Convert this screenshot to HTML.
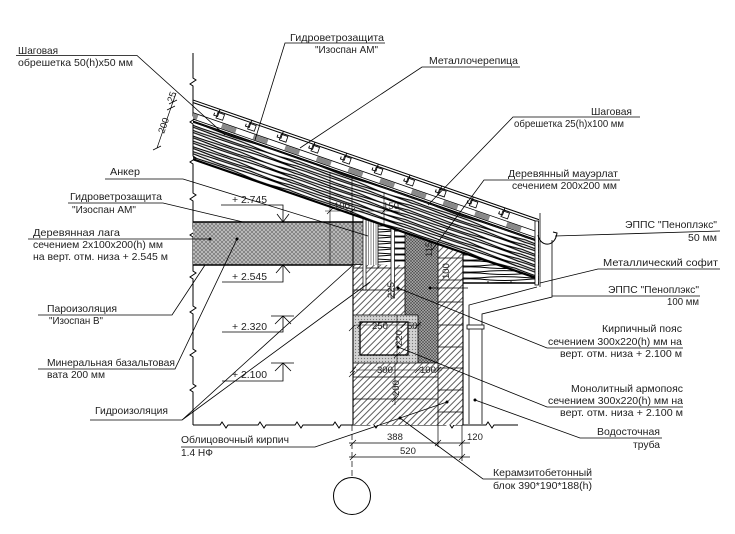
<!DOCTYPE html>
<html><head><meta charset="utf-8"><title>Узел карниза</title>
<style>
html,body{margin:0;padding:0;background:#fff;width:735px;height:534px;overflow:hidden}
svg{display:block}
text{font-family:"Liberation Sans","DejaVu Sans",sans-serif;font-size:10.5px;fill:#1e1e1e;stroke:none}
text.d{font-size:9.5px}
</style></head><body>
<svg width="735" height="534" viewBox="0 0 735 534" xmlns="http://www.w3.org/2000/svg">
<defs>
<pattern id="wood" width="120" height="10" patternUnits="userSpaceOnUse">
<path d="M0,1 C20,-0.5 40,3 60,1.6 S100,0 120,1 M0,3.6 C25,5.6 45,2 70,4.2 S105,5 120,3.6 M0,6 C15,4.5 40,7.8 65,6.4 S100,5 120,6 M0,8.4 C30,9.9 50,7 80,8.6 S110,9.6 120,8.4" fill="none" stroke="#000" stroke-width="1.15"/>
</pattern>
<pattern id="hwood" width="70" height="6" patternUnits="userSpaceOnUse">
<path d="M0,1 Q17.5,0 35,1.5 T70,1 M0,4 Q17.5,5.2 35,3.6 T70,4" fill="none" stroke="#000" stroke-width="1"/>
</pattern>
<pattern id="cross" width="4" height="4" patternUnits="userSpaceOnUse">
<rect width="4" height="4" fill="#b8b8b8"/>
<path d="M0,0L4,4M4,0L0,4" stroke="#555" stroke-width="0.5"/>
</pattern>
<pattern id="epps" width="3" height="3" patternUnits="userSpaceOnUse">
<rect width="3" height="3" fill="#9c9c9c"/>
<path d="M0,0L3,3M3,0L0,3" stroke="#444" stroke-width="0.5"/>
</pattern>
<pattern id="diag" width="4.5" height="4.5" patternUnits="userSpaceOnUse" patternTransform="rotate(45)">
<rect width="4.5" height="4.5" fill="#fff"/>
<line x1="2" y1="0" x2="2" y2="4.5" stroke="#333" stroke-width="0.8"/>
</pattern>
<pattern id="belt" width="3" height="3" patternUnits="userSpaceOnUse">
<rect width="3" height="3" fill="#d2d2d2"/>
<circle cx="1.5" cy="1.5" r="0.6" fill="#777"/>
</pattern>
<pattern id="vh" width="2.5" height="4" patternUnits="userSpaceOnUse">
<rect width="2.5" height="4" fill="#fff"/><line x1="1" y1="0" x2="1" y2="4" stroke="#444" stroke-width="0.6"/>
</pattern>
<clipPath id="rc"><rect x="193" y="0" width="346" height="300"/></clipPath>
<clipPath id="wc"><polygon points="353,214.4 463,252.4 463,425 353,425"/></clipPath>
</defs>

<g fill="none" stroke="#000" stroke-width="0.8">

<!-- left break line -->
<path d="M193,53 V78 l3,2 l-6,4 l3,2 V116 l3,2 l-6,4 l3,2 V156 l3,2 l-6,4 l3,2 V193 l3,2 l-6,4 l3,2 V229 l3,2 l-6,4 l3,2 V271 l3,2 l-6,4 l3,2 V306 l3,2 l-6,4 l3,2 V349 l3,2 l-6,4 l3,2 V384 l3,2 l-6,4 l3,2 V425" stroke-width="1"/>
<!-- bottom break line -->
<path d="M193,425 H220 l2,-3 l4,6 l2,-3 H258 l2,-3 l4,6 l2,-3 H295 l2,-3 l4,6 l2,-3 H333 l2,-3 l4,6 l2,-3 H370 l2,-3 l4,6 l2,-3 H446 l2,-3 l4,6 l2,-3 H486 l2,-3 l4,6 l2,-3 H518" stroke-width="1"/>

<!-- joist -->
<rect x="193" y="222" width="172" height="43" fill="url(#cross)" stroke="none"/>
<line x1="193" y1="222" x2="366" y2="222" stroke-width="1.6"/>
<line x1="193" y1="265" x2="366" y2="265" stroke-width="1.6"/>
<line x1="330" y1="172" x2="330" y2="265" stroke-width="0.6"/>

<!-- wall -->
<g clip-path="url(#wc)">
<rect x="365" y="205" width="13" height="63" fill="url(#vh)" stroke="none"/>
<rect x="378" y="205" width="27" height="63" fill="url(#hwood)" stroke="none"/>
<rect x="405" y="205" width="33" height="158" fill="url(#epps)" stroke="none"/>
<rect x="438" y="205" width="25" height="220" fill="url(#diag)" stroke="none"/>
<rect x="353" y="265" width="52" height="50" fill="url(#diag)" stroke="none"/>
<rect x="353" y="315" width="65" height="48" fill="url(#belt)" stroke="none"/>
<rect x="360" y="322" width="48" height="33" fill="url(#diag)" stroke="#000" stroke-width="1.3"/>
<rect x="353" y="363" width="85" height="62" fill="url(#diag)" stroke="none"/>
<path d="M438,258H463M438,280H463M438,302H463M438,325H463M438,347H463M438,368H463M438,390H463M438,412H463"/>
<path d="M353,290H405M353,268H405M353,315H418M353,363H438M353,377H438M353,399H438"/>
<path d="M365,205V268M378,205V268M405,205V315M418,315V363M438,205V425"/>
<rect x="363" y="214" width="3" height="76" fill="#fff" stroke-width="0.7"/>
<rect x="391" y="222" width="3.5" height="76" fill="#fff" stroke-width="0.7"/>
</g>
<line x1="353" y1="214" x2="353" y2="425" stroke-width="1.1"/>
<line x1="463" y1="252" x2="463" y2="425" stroke-width="1.1"/>

<!-- eave filler -->
<polygon points="463,252.4 537,278 537,283 463,283" fill="url(#hwood)" stroke="none"/>
<line x1="463" y1="283" x2="539" y2="283" stroke-width="1.5"/>
<path d="M488,283v-2M511,283v-2"/>

<!-- roof -->
<g clip-path="url(#rc)">
<g transform="translate(193,100) rotate(19.08)">
<rect x="-25" y="21" width="420" height="35" fill="url(#wood)" stroke="none"/>
<line x1="-25" y1="21" x2="400" y2="21" stroke-width="0.8"/>
<line x1="-25" y1="56" x2="400" y2="56" stroke-width="2.2"/>
<line x1="-25" y1="12" x2="400" y2="12"/>
<line x1="-25" y1="18" x2="400" y2="18"/>
<line x1="-25" y1="20" x2="400" y2="20" stroke-width="1.3"/>
<g fill="#8a8a8a" stroke="none">
<rect x="-5" y="12.5" width="15" height="5"/><rect x="35.6" y="12.5" width="15" height="5"/><rect x="69.1" y="12.5" width="15" height="5"/><rect x="102.6" y="12.5" width="15" height="5"/><rect x="136.1" y="12.5" width="15" height="5"/><rect x="169.6" y="12.5" width="15" height="5"/><rect x="203.1" y="12.5" width="15" height="5"/><rect x="236.6" y="12.5" width="15" height="5"/><rect x="270.1" y="12.5" width="15" height="5"/><rect x="303.6" y="12.5" width="15" height="5"/><rect x="337.1" y="12.5" width="15" height="5"/>
</g>
<g fill="#fff">
<rect x="27.6" y="3.5" width="7" height="6"/><rect x="61.1" y="3.5" width="7" height="6"/><rect x="94.6" y="3.5" width="7" height="6"/><rect x="128.1" y="3.5" width="7" height="6"/><rect x="161.6" y="3.5" width="7" height="6"/><rect x="195.1" y="3.5" width="7" height="6"/><rect x="228.6" y="3.5" width="7" height="6"/><rect x="262.1" y="3.5" width="7" height="6"/><rect x="295.6" y="3.5" width="7" height="6"/><rect x="329.1" y="3.5" width="7" height="6"/>
</g>
<line x1="-25" y1="0" x2="400" y2="0" stroke-width="1"/>
<line x1="-25" y1="2.4" x2="400" y2="2.4" stroke-width="1"/>
<path d="M28.6,0v7.5h-4v-2.5M62.1,0v7.5h-4v-2.5M95.6,0v7.5h-4v-2.5M129.1,0v7.5h-4v-2.5M162.6,0v7.5h-4v-2.5M196.1,0v7.5h-4v-2.5M229.6,0v7.5h-4v-2.5M263.1,0v7.5h-4v-2.5M296.6,0v7.5h-4v-2.5M330.1,0v7.5h-4v-2.5" stroke-width="0.9"/>
</g>
</g>

<!-- fascia, gutter, pipe -->
<rect x="535" y="221" width="3.5" height="64" fill="#fff" stroke-width="0.8"/>
<path d="M540,213 V287"/>
<path d="M538,235 C540,247 555,248 557,233 L553,232" stroke-width="1"/>
<path d="M537,287 L469,305 V424"/>
<path d="M552,240 V297 L482,314 V424"/>
<rect x="467" y="325" width="17" height="4" fill="#fff"/>

<!-- dims top -->
<path d="M352,176V214M384,192V224M325,211H400M327,214l6,-6M349,214l6,-6M381,214l6,-6" stroke-width="0.6"/>
<!-- perpendicular dim 200/25 -->
<path d="M157,148 L176,93 M153,150l8,-4M167,110l8,-4M169,104l8,-4" stroke-width="0.7"/>

<!-- wall small dims -->
<path d="M356,325H421M357,328l6,-6M401,328l6,-6M415,328l6,-6M397,315V363M394,358l6,-6M356,370H442M350,373l6,-6M415,373l6,-6M435,373l6,-6M395,363V405M392,402l6,-6M349,331l6,-6M349,377l6,-6" stroke-width="0.6"/>

<!-- bottom dims -->
<path d="M349,443H470M349,457H470M350,446l6,-6M435,446l6,-6M459,446l6,-6M350,460l6,-6M459,460l6,-6M438,425V447M462,425V461" stroke-width="0.7"/>
<path d="M352,425V478" stroke-dasharray="6,3" stroke-width="0.7"/>
<circle cx="352" cy="496" r="18.5" stroke-width="1"/>

<!-- elevation marks -->
<path d="M221,205H283V222M277,214L283,222L289,214"/>
<path d="M222,282H283V265M276,273L283,265L290,273"/>
<path d="M222,332H283V316M275,324L283,316L291,324M271,316H294"/>
<path d="M222,381H283V363M275,371L283,363L291,371M271,363H294"/>

<!-- leaders -->
<path d="M16,55.5H137L225,135"/>
<path d="M385,43H285L255,140"/>
<path d="M520,67H422L300,148"/>
<path d="M640,117H513L428,205"/>
<path d="M620,180H484L432,250"/>
<path d="M555,236L720,231"/>
<path d="M720,269H598L540,283"/>
<path d="M552,296H700"/>
<path d="M430,288H468"/>
<path d="M683,348H547L398,288"/>
<path d="M683,407H547L398,347"/>
<path d="M662,438H580L475,400"/>
<path d="M592,479H483L400,418"/>
<path d="M181,447H315L447,402"/>
<path d="M105,179H183L368,236"/>
<path d="M68,203H163L243,222"/>
<path d="M28,239H210"/>
<path d="M38,315H172L205,265"/>
<path d="M38,369H175L237,239"/>
<path d="M90,420H182L352,266M182,420L370,282"/>
</g>

<g fill="#000">
<circle cx="398" cy="288" r="1.5"/><circle cx="398" cy="347" r="1.5"/><circle cx="475" cy="400" r="1.5"/><circle cx="400" cy="418" r="1.5"/><circle cx="447" cy="402" r="1.5"/><circle cx="210" cy="239" r="1.5"/><circle cx="237" cy="239" r="1.5"/><circle cx="430" cy="288" r="1.5"/>
</g>

<!-- labels -->
<text x="18" y="54" textLength="40" lengthAdjust="spacingAndGlyphs">Шаговая</text>
<text x="18" y="66" textLength="115" lengthAdjust="spacingAndGlyphs">обрешетка 50(h)х50 мм</text>
<text x="290" y="41" textLength="94" lengthAdjust="spacingAndGlyphs">Гидроветрозащита</text>
<text x="315" y="53" textLength="63" lengthAdjust="spacingAndGlyphs">"Изоспан АМ"</text>
<text x="429" y="64" textLength="89" lengthAdjust="spacingAndGlyphs">Металлочерепица</text>
<text x="591" y="115" textLength="41" lengthAdjust="spacingAndGlyphs">Шаговая</text>
<text x="514" y="127" textLength="110" lengthAdjust="spacingAndGlyphs">обрешетка 25(h)х100 мм</text>
<text x="508" y="177" textLength="110" lengthAdjust="spacingAndGlyphs">Деревянный мауэрлат</text>
<text x="512" y="189" textLength="105" lengthAdjust="spacingAndGlyphs">сечением 200х200 мм</text>
<text x="625" y="228" textLength="92" lengthAdjust="spacingAndGlyphs">ЭППС "Пеноплэкс"</text>
<text x="688" y="241" textLength="29" lengthAdjust="spacingAndGlyphs">50 мм</text>
<text x="603" y="266" textLength="115" lengthAdjust="spacingAndGlyphs">Металлический софит</text>
<text x="608" y="293" textLength="91" lengthAdjust="spacingAndGlyphs">ЭППС "Пеноплэкс"</text>
<text x="667" y="305" textLength="32" lengthAdjust="spacingAndGlyphs">100 мм</text>
<text x="602" y="332" textLength="80" lengthAdjust="spacingAndGlyphs">Кирпичный пояс</text>
<text x="548" y="345" textLength="134" lengthAdjust="spacingAndGlyphs">сечением 300х220(h) мм на</text>
<text x="560" y="357" textLength="122" lengthAdjust="spacingAndGlyphs">верт. отм. низа + 2.100 м</text>
<text x="571" y="392" textLength="112" lengthAdjust="spacingAndGlyphs">Монолитный армопояс</text>
<text x="548" y="404" textLength="135" lengthAdjust="spacingAndGlyphs">сечением 300х220(h) мм на</text>
<text x="560" y="416" textLength="123" lengthAdjust="spacingAndGlyphs">верт. отм. низа + 2.100 м</text>
<text x="597" y="435" textLength="63" lengthAdjust="spacingAndGlyphs">Водосточная</text>
<text x="633" y="448" textLength="27" lengthAdjust="spacingAndGlyphs">труба</text>
<text x="493" y="476" textLength="99" lengthAdjust="spacingAndGlyphs">Керамзитобетонный</text>
<text x="493" y="489" textLength="99" lengthAdjust="spacingAndGlyphs">блок 390*190*188(h)</text>
<text x="181" y="443" textLength="108" lengthAdjust="spacingAndGlyphs">Облицовочный кирпич</text>
<text x="181" y="456" textLength="32" lengthAdjust="spacingAndGlyphs">1.4 НФ</text>
<text x="110" y="175" textLength="30" lengthAdjust="spacingAndGlyphs">Анкер</text>
<text x="70" y="200" textLength="92" lengthAdjust="spacingAndGlyphs">Гидроветрозащита</text>
<text x="72" y="213" textLength="64" lengthAdjust="spacingAndGlyphs">"Изоспан АМ"</text>
<text x="33" y="236" textLength="87" lengthAdjust="spacingAndGlyphs">Деревянная лага</text>
<text x="33" y="248" textLength="130" lengthAdjust="spacingAndGlyphs">сечением 2х100х200(h) мм</text>
<text x="33" y="260" textLength="135" lengthAdjust="spacingAndGlyphs">на верт. отм. низа + 2.545 м</text>
<text x="47" y="312" textLength="70" lengthAdjust="spacingAndGlyphs">Пароизоляция</text>
<text x="49" y="324" textLength="54" lengthAdjust="spacingAndGlyphs">"Изоспан В"</text>
<text x="47" y="366" textLength="128" lengthAdjust="spacingAndGlyphs">Минеральная базальтовая</text>
<text x="47" y="378" textLength="58" lengthAdjust="spacingAndGlyphs">вата 200 мм</text>
<text x="95" y="414" textLength="73" lengthAdjust="spacingAndGlyphs">Гидроизоляция</text>

<!-- elevations -->
<text x="232" y="203" textLength="35" lengthAdjust="spacingAndGlyphs">+ 2.745</text>
<text x="232" y="280" textLength="35" lengthAdjust="spacingAndGlyphs">+ 2.545</text>
<text x="232" y="330" textLength="35" lengthAdjust="spacingAndGlyphs">+ 2.320</text>
<text x="232" y="378" textLength="35" lengthAdjust="spacingAndGlyphs">+ 2.100</text>

<!-- dims text -->
<text class="d" x="387" y="440">388</text>
<text class="d" x="467" y="440">120</text>
<text class="d" x="400" y="454">520</text>
<text class="d" x="372" y="329">250</text>
<text class="d" x="407" y="329">50</text>
<text class="d" x="377" y="373">300</text>
<text class="d" x="420" y="373">100</text>
<text class="d" x="334" y="209">100</text>
<text class="d" x="383" y="209">150</text>
<text class="d" transform="translate(402,346) rotate(-90)">220</text>
<text class="d" transform="translate(399,396) rotate(-90)">200</text>
<text class="d" transform="translate(394,298) rotate(-90)">225</text>
<text class="d" transform="translate(432,257) rotate(-90)">115</text>
<text class="d" transform="translate(449,279) rotate(-90)">100</text>
<text class="d" transform="translate(164,134) rotate(-70.9)">200</text>
<text class="d" transform="translate(173,103) rotate(-70.9)">25</text>
</svg>
</body></html>
